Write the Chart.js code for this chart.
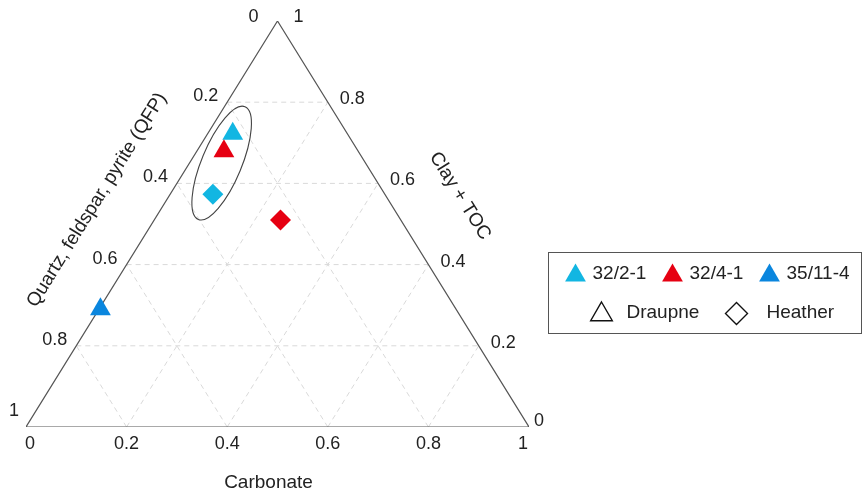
<!DOCTYPE html>
<html>
<head>
<meta charset="utf-8">
<script src="https://cdn.jsdelivr.net/npm/chart.js@4/dist/chart.umd.min.js"></script>
<style>
  html, body { margin: 0; padding: 0; background: #fff; }
  #wrap { position: relative; width: 866px; height: 492px; }
</style>
</head>
<body>
<div id="wrap"><canvas id="ternary"></canvas></div>
<script>
// wells / formations
const wells = ['32/2-1', '32/4-1', '35/11-4'];
const wellColors = ['#12b6e2', '#e60012', '#0a86de'];
const formations = ['Draupne', 'Heather'];
const formationShapes = ['triangle', 'rectRot'];

// samples (fractions)
const sampleWell      = ['32/2-1', '32/4-1', '32/2-1', '32/4-1', '35/11-4'];
const sampleFormation = ['Draupne', 'Draupne', 'Heather', 'Heather', 'Draupne'];
const qfp       = [0.228, 0.267, 0.342, 0.239, 0.707];
const carbonate = [0.050, 0.054, 0.085, 0.251, 0.003];
const clayToc   = [0.722, 0.679, 0.573, 0.510, 0.290];

// axis ticks
const tickValues = [0, 0.2, 0.4, 0.6, 0.8, 1];
const gridValues = [0.2, 0.4, 0.6, 0.8];

// grouping ellipse around the Draupne / Heather cluster (centre in ternary units)
const groupCentre = { qfp: 0.286, carbonate: 0.064, clay: 0.650 };

const FONT = '"Liberation Sans", Arial, sans-serif';
const TEXT = '#222';

// ternary -> cartesian (x from carbonate, y from clay)
function toXY(q, c, k) {
  const s = q + c + k;
  c = c / s; k = k / s;
  return { x: c + k / 2, y: k };
}

const points = qfp.map((q, i) => toXY(q, carbonate[i], clayToc[i]));
const pointColors = sampleWell.map(w => wellColors[wells.indexOf(w)]);
const pointShapes = sampleFormation.map(f => formationShapes[formations.indexOf(f)]);
const pointSizes = pointShapes.map(s => s === 'triangle' ? 12 : 10.5);

// dashed grid lines, one per tick value and per component
const gridSets = [];
gridValues.forEach(v => {
  const lines = [
    [toXY(1 - v, 0, v), toXY(0, 1 - v, v)],   // clay + TOC constant
    [toXY(1 - v, v, 0), toXY(0, v, 1 - v)],   // carbonate constant
    [toXY(v, 1 - v, 0), toXY(v, 0, 1 - v)]    // QFP constant
  ];
  lines.forEach(l => gridSets.push({
    data: l, showLine: true, borderColor: '#d9d9d9', borderWidth: 1,
    borderDash: [5, 4], pointRadius: 0, order: 3
  }));
});

const outline = {
  data: [toXY(1, 0, 0), toXY(0, 1, 0), toXY(0, 0, 1), toXY(1, 0, 0)],
  showLine: true, borderColor: '#555', borderWidth: 1.2, pointRadius: 0, order: 2
};

const samples = {
  data: points,
  pointStyle: pointShapes,
  pointRadius: pointSizes,
  pointBackgroundColor: pointColors,
  pointBorderWidth: 0,
  showLine: false,
  order: 0
};

function px(chart, p) {
  return [chart.scales.x.getPixelForValue(p.x), chart.scales.y.getPixelForValue(p.y)];
}

function marker(ctx, shape, x, y, r, fill) {
  ctx.beginPath();
  if (shape === 'triangle') {
    ctx.moveTo(x, y - r);
    ctx.lineTo(x + r * 0.866, y + r / 2);
    ctx.lineTo(x - r * 0.866, y + r / 2);
  } else {
    ctx.moveTo(x, y - r);
    ctx.lineTo(x + r, y);
    ctx.lineTo(x, y + r);
    ctx.lineTo(x - r, y);
  }
  ctx.closePath();
  if (fill) { ctx.fillStyle = fill; ctx.fill(); }
  else { ctx.strokeStyle = '#111'; ctx.lineWidth = 1.4; ctx.stroke(); }
}

const ternaryDecor = {
  id: 'ternaryDecor',
  afterDatasetsDraw(chart) {
    const ctx = chart.ctx;
    const c = toXY(groupCentre.qfp, groupCentre.carbonate, groupCentre.clay);
    const [cx, cy] = px(chart, c);
    ctx.save();
    ctx.beginPath();
    ctx.ellipse(cx, cy, 20, 61, 22.5 * Math.PI / 180, 0, Math.PI * 2);
    ctx.strokeStyle = '#444';
    ctx.lineWidth = 1.1;
    ctx.stroke();
    ctx.restore();
  },
  afterDraw(chart) {
    const ctx = chart.ctx;
    ctx.save();
    ctx.fillStyle = TEXT;
    ctx.font = '18px ' + FONT;
    ctx.textBaseline = 'middle';

    // bottom axis: carbonate
    ctx.textAlign = 'center';
    tickValues.forEach(v => {
      const [x, y] = px(chart, toXY(1 - v, v, 0));
      const dx = v === 0 ? 4 : (v === 1 ? -6 : 0);
      ctx.fillText(String(v), x + dx, y + 17);
    });

    // left axis: QFP (0 at top, 1 bottom-left)
    ctx.textAlign = 'right';
    tickValues.forEach(v => {
      const [x, y] = px(chart, toXY(v, 0, 1 - v));
      if (v === 0) ctx.fillText('0', x - 19, y - 4);
      else if (v === 1) ctx.fillText('1', x - 7, y - 16);
      else ctx.fillText(String(v), x - 9, y - 6);
    });

    // right axis: clay + TOC (1 at top, 0 bottom-right)
    ctx.textAlign = 'left';
    tickValues.forEach(v => {
      const [x, y] = px(chart, toXY(0, 1 - v, v));
      if (v === 1) ctx.fillText('1', x + 16, y - 4);
      else if (v === 0) ctx.fillText('0', x + 5, y - 6);
      else ctx.fillText(String(v), x + 12, y - 3);
    });

    // axis titles
    const [lx, ly] = px(chart, toXY(1, 0, 0));
    const [tx, ty] = px(chart, toXY(0, 0, 1));
    const ang = Math.atan2(ly - ty, tx - lx);
    ctx.font = '19px ' + FONT;
    ctx.textAlign = 'center';
    ctx.fillText('Carbonate', (chart.chartArea.left + chart.chartArea.right) / 2 - 9, 483);

    ctx.save();
    ctx.translate(97, 200);
    ctx.rotate(-ang);
    ctx.fillText('Quartz, feldspar, pyrite (QFP)', 0, 0);
    ctx.restore();

    ctx.save();
    ctx.translate(460, 196);
    ctx.rotate(ang);
    ctx.fillText('Clay + TOC', 0, 0);
    ctx.restore();

    // legend box
    const bx = 548.5, by = 252.5;
    ctx.strokeStyle = '#555';
    ctx.lineWidth = 1;
    ctx.strokeRect(bx, by, 313, 81);
    ctx.textAlign = 'left';
    const wellX = [27, 124, 221];
    wells.forEach((w, i) => {
      marker(ctx, 'triangle', bx + wellX[i], by + 23, 12, wellColors[i]);
      ctx.fillStyle = TEXT;
      ctx.fillText(w, bx + wellX[i] + 17, by + 21);
    });
    const formX = [53, 188];
    formations.forEach((f, i) => {
      const r = formationShapes[i] === 'triangle' ? 12.5 : 11;
      const yOff = formationShapes[i] === 'triangle' ? 62 : 61;
      marker(ctx, formationShapes[i], bx + formX[i], by + yOff, r, null);
      ctx.fillStyle = TEXT;
      ctx.fillText(f, bx + formX[i] + (i === 0 ? 25 : 30), by + 60);
    });
    ctx.restore();
  }
};

new Chart(document.getElementById('ternary'), {
  type: 'scatter',
  data: { datasets: [samples, outline, ...gridSets] },
  options: {
    responsive: true,
    maintainAspectRatio: false,
    animation: false,
    layout: { padding: { left: 26, right: 337, top: 21, bottom: 65 } },
    scales: {
      x: { type: 'linear', min: 0, max: 1, display: false },
      y: { type: 'linear', min: 0, max: 1, display: false }
    },
    plugins: { legend: { display: false }, tooltip: { enabled: false } }
  },
  plugins: [ternaryDecor]
});
</script>
</body>
</html>
